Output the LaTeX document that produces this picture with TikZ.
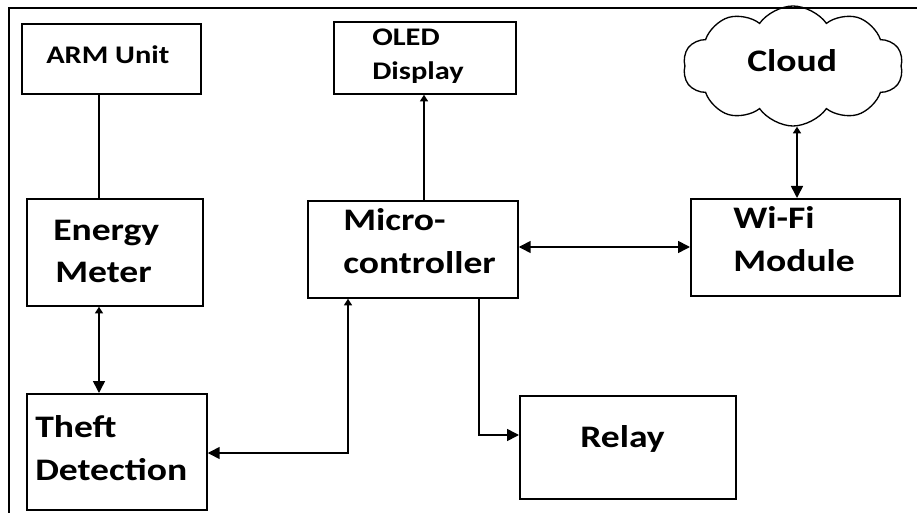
\documentclass[tikz,border=0pt]{standalone}
\usepackage{fontspec}
\newfontfamily\lbl[FakeStretch=1.2]{Carlito}
\usetikzlibrary{arrows.meta,shapes.symbols}
\tikzset{
  frame/.style={line width=1.3pt},
  box/.style 2 args={draw, line width=1.3pt, minimum width=#1*0.75pt, minimum height=#2*0.75pt, anchor=north west, inner sep=0pt},
  conn/.style={line width=1.2pt},
  bigtip/.tip={Triangle[length=9pt,width=9pt]},
  smalltip/.tip={Triangle[length=5pt,width=6pt]},
  big/.style={font=\lbl\bfseries\fontsize{23.5pt}{28pt}\selectfont, anchor=base west, inner sep=0pt},
  small/.style={font=\lbl\bfseries\fontsize{19pt}{23pt}\selectfont, anchor=base west, inner sep=0pt},
}
\begin{document}
\begin{tikzpicture}[x=0.75pt,y=-0.75pt]
\useasboundingbox (0,0) rectangle (917,513);
% outer frame (top and left edges)
\draw[frame] (9,513) -- (9,8) -- (917,8);
% boxes
\node[box={179}{70}] (arm) at (21,23) {};
\node[box={182}{72}] (oled) at (333,21) {};
\node[box={176}{107}] (energy) at (26,198) {};
\node[box={210}{97}] (micro) at (307,200) {};
\node[box={209}{97}] (wifi) at (690,198) {};
\node[box={180}{116}] (theft) at (26,393) {};
\node[box={216}{103}] (relay) at (519,395) {};
\node[cloud, draw, line width=1pt, cloud puffs=10, cloud puff arc=110, cloud ignores aspect,
      minimum width=220*0.75pt, minimum height=120*0.75pt, inner sep=0pt] (cloud) at (793,66) {};
% labels
\node[small] (tarm) at (46,64) {ARM Unit};
\node[small] (toled1) at (372,46) {OLED};
\node[small] (toled2) at (372,80) {Display};
\node[big] (tcloud) at (747,72) {Cloud};
\node[big] (ten1) at (53,241) {Energy};
\node[big] (ten2) at (55,282) {Meter};
\node[big] (tmi1) at (343,231) {Micro-};
\node[big] (tmi2) at (343,273) {controller};
\node[big] (twi1) at (733,229) {Wi-Fi};
\node[big] (twi2) at (733,272) {Module};
\node[big] (tth1) at (35,437) {Theft};
\node[big] (tth2) at (35,480) {Detection};
\node[big] (trel) at (580,447) {Relay};
% connector guides
\coordinate (xa) at (99,0);
\coordinate (xo) at (424,0);
\coordinate (xc) at (797,0);
\coordinate (ym) at (0,247);
\coordinate (yt) at (0,453);
\coordinate (xt) at (348,0);
\coordinate (xr) at (479,0);
\coordinate (yr) at (0,435);
% connectors
\draw[conn] (arm.south -| xa) -- (energy.north -| xa);
\draw[conn, smalltip-bigtip] (energy.south -| xa) -- (theft.north -| xa);
\draw[conn, -smalltip] (micro.north -| xo) -- (oled.south -| xo);
\draw[conn, smalltip-bigtip] (cloud.south -| xc) -- (wifi.north -| xc);
\draw[conn, bigtip-bigtip] (micro.east |- ym) -- (wifi.west |- ym);
\draw[conn, bigtip-smalltip] (theft.east |- yt) -| (micro.south -| xt);
\draw[conn, -bigtip] (micro.south -| xr) |- (relay.west |- yr);
\end{tikzpicture}
\end{document}
